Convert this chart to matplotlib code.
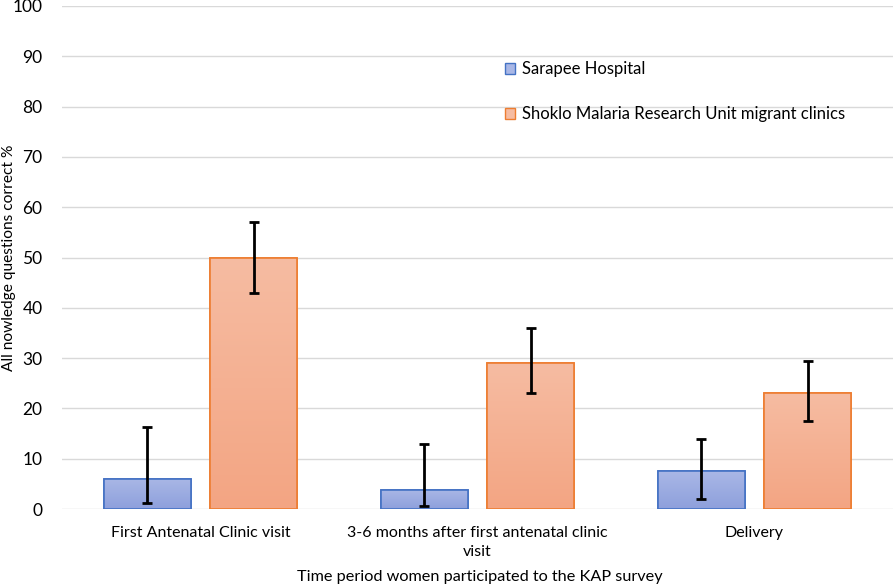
import matplotlib
matplotlib.use("Agg")
import matplotlib.pyplot as plt
import numpy as np
from matplotlib.colors import LinearSegmentedColormap

categories = ["First Antenatal Clinic visit", "3-6 months after first antenatal clinic\nvisit", "Delivery"]
series_names = ["Sarapee Hospital", "Shoklo Malaria Research Unit migrant clinics"]
sarapee = [6.0, 3.8, 7.5]
sarapee_lo = [1.2, 0.5, 2.0]
sarapee_hi = [16.3, 13.0, 14.0]
smru = [50.0, 29.0, 23.0]
smru_lo = [43.0, 23.0, 17.5]
smru_hi = [57.0, 36.0, 29.5]

plt.rcParams['font.family'] = ['Lato', 'DejaVu Sans']

fig = plt.figure(figsize=(8.94, 5.87), dpi=100)
ax = fig.add_axes([62/894, 1-509/587, 831/894, 503/587])

x = np.arange(len(categories))
w = 0.314
off = 0.193

styles = [
    dict(edge="#4472C4", top="#A9B7E6", bot="#8EA0DC"),
    dict(edge="#ED7D31", top="#F6BCA2", bot="#F3A583"),
]

def grad_bar(xc, h, st, label):
    b = ax.bar(xc, h, w, color=st["bot"], edgecolor=st["edge"], linewidth=1.2, zorder=3, label=label)
    for rect in b:
        x0 = rect.get_x(); x1 = x0 + rect.get_width(); y1 = rect.get_height()
        cmap = LinearSegmentedColormap.from_list("g", [st["bot"], st["top"]])
        im = ax.imshow(np.linspace(0, 1, 100).reshape(-1, 1), cmap=cmap, origin="lower",
                       extent=[x0, x1, 0, y1], aspect="auto", zorder=3.1)
        im.set_clip_path(rect)
        ax.add_patch(plt.Rectangle((x0, 0), x1 - x0, y1, fill=False, edgecolor=st["edge"], linewidth=1.2, zorder=3.2))
    return b

grad_bar(x - off, sarapee, styles[0], series_names[0])
grad_bar(x + off, smru, styles[1], series_names[1])

for xs, v, lo, hi in [(x - off, sarapee, sarapee_lo, sarapee_hi), (x + off, smru, smru_lo, smru_hi)]:
    v = np.array(v); lo = np.array(lo); hi = np.array(hi)
    ax.errorbar(xs, v, yerr=[v - lo, hi - v], fmt="none", ecolor="black", elinewidth=2,
                capsize=3.5, capthick=2, zorder=4)

ax.set_xlim(-0.5, 2.5)
ax.set_ylim(0, 100)
ax.set_yticks(np.arange(0, 101, 10))
ax.set_xticks(x)
ax.set_xticklabels(categories, fontsize=11.5, linespacing=1.5)
ax.tick_params(axis="y", labelsize=12.5, length=0, pad=14)
ax.tick_params(axis="x", length=0, pad=12)
ax.grid(axis="y", color="#D9D9D9", linewidth=1, zorder=0)
ax.set_axisbelow(True)
for s in ax.spines.values():
    s.set_visible(False)

ax.set_ylabel("All nowledge questions correct %", fontsize=11.2)
ax.yaxis.set_label_coords((9 - 62) / 831, 0.5)
ax.yaxis.label.set_verticalalignment("center")
fig.text(480/894, 1-577/587, "Time period women participated to the KAP survey", ha="center", va="center", fontsize=11.7)

handles = [plt.Rectangle((0, 0), 1, 1, facecolor=st["top"], edgecolor=st["edge"]) for st in styles]
ax.legend(handles, series_names, loc="upper left", bbox_to_anchor=(0.515, 0.92), frameon=False,
          fontsize=12, handlelength=0.6, handleheight=0.6, handletextpad=0.4, labelspacing=1.75)

fig.savefig("out.png", dpi=100)
